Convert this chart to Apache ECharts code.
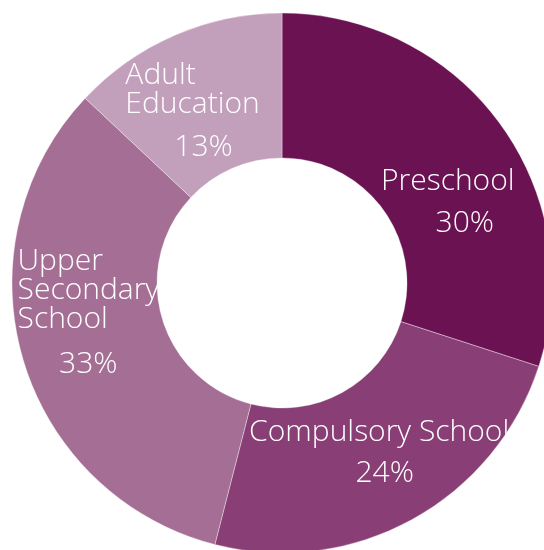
<!DOCTYPE html>
<html>
<head>
<meta charset="utf-8">
<script src="https://cdn.jsdelivr.net/npm/echarts@6/dist/echarts.min.js"></script>
<style>html,body{margin:0;padding:0;background:#fff}#c{width:544px;height:550px}</style>
</head>
<body>
<div id="c"></div>
<script>
const categories = ['Preschool', 'Compulsory School', 'Upper Secondary School', 'Adult Education'];
const labelNames = ['Preschool', 'Compulsory School', 'Upper\nSecondary\nSchool', 'Adult\nEducation'];
const shares = [30, 24, 33, 13];

const colors = ['#6b1253', '#893f75', '#a56e95', '#c29fbb'];
const CX = 282, CY = 283, R0 = 125, R1 = 270;
const labelShift = [[6, 36], [2, -3], [-4, -25], [-11, 10]];
const nameAlign = ['center', 'center', 'left', 'left'];
const pctLineHeight = [42, 42, 46, 44];
const pctPadLeft = [34, 11, 0, 22];

const total = shares.reduce(function (a, b) { return a + b; }, 0);
const midPos = [];
(function () {
  let a = 90;
  for (let i = 0; i < shares.length; i++) {
    const span = shares[i] / total * 360;
    const m = (a - span / 2) * Math.PI / 180;
    const r = (R0 + R1) / 2;
    midPos.push([CX + r * Math.cos(m), CY - r * Math.sin(m)]);
    a -= span;
  }
})();

const FS = 30;
const chart = echarts.init(document.getElementById('c'), null, {renderer: 'canvas'});
chart.setOption({
  animation: false,
  series: [{
    type: 'pie',
    center: [CX, CY],
    radius: [R0, R1],
    startAngle: 90,
    clockwise: true,
    avoidLabelOverlap: false,
    itemStyle: {borderColor: 'rgba(255,255,255,0.6)', borderWidth: 0.6},
    label: {
      show: true,
      position: 'inside',
      color: '#fff',
      fontFamily: 'Open Sans',
      fontWeight: 300,
      fontSize: FS
    },
    labelLine: {show: false},
    labelLayout: function (p) {
      const i = p.dataIndex;
      return {
        x: midPos[i][0] + labelShift[i][0],
        y: midPos[i][1] + labelShift[i][1],
        align: 'center',
        verticalAlign: 'middle'
      };
    },
    data: categories.map(function (c, i) {
      return {
        name: c,
        value: shares[i],
        itemStyle: {color: colors[i]},
        label: {
          formatter: labelNames[i].split('\n').map(function (l) { return '{n|' + l + '}'; }).join('\n') + '\n{p|' + shares[i] + '%}',
          rich: {
            n: {color: '#fff', fontFamily: 'Open Sans', fontWeight: 300, fontSize: FS, lineHeight: 29, align: nameAlign[i]},
            p: {color: '#fff', fontFamily: 'Open Sans', fontWeight: 300, fontSize: FS, lineHeight: pctLineHeight[i],
                verticalAlign: 'bottom', align: 'center', padding: [0, 0, 0, pctPadLeft[i]]}
          }
        }
      };
    })
  }]
});
</script>
</body>
</html>
